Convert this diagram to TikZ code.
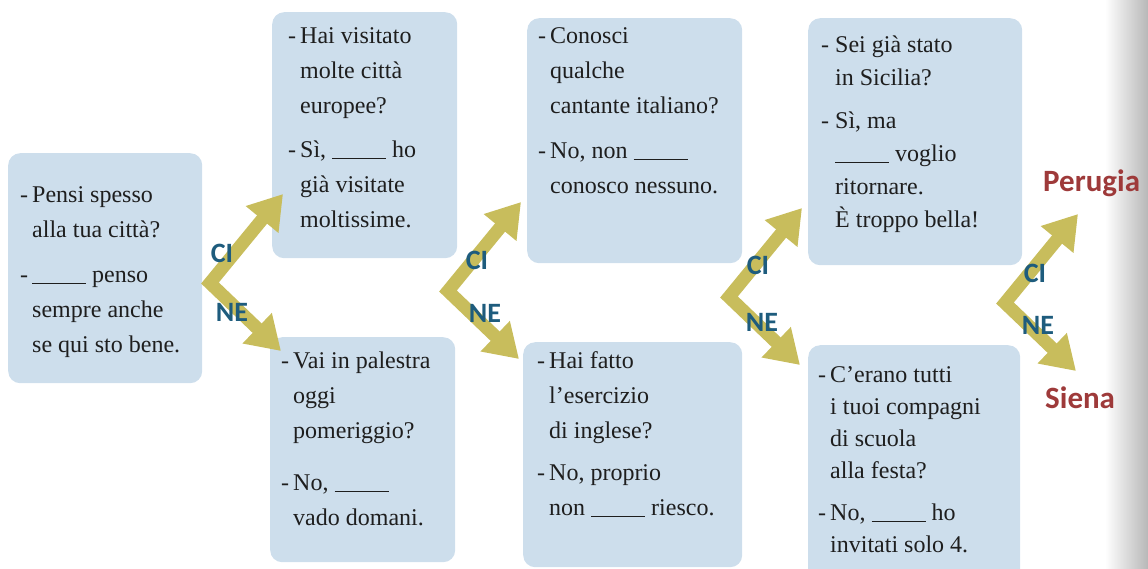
\documentclass[tikz,border=0pt]{standalone}
\usepackage{fontspec}
\setmainfont{Liberation Serif}
\newfontfamily\etichettafont{Carlito}
\usetikzlibrary{arrows.meta}
\definecolor{azzurro}{RGB}{205,222,236}
\definecolor{oliva}{RGB}{200,189,92}
\definecolor{blu}{RGB}{30,92,125}
\definecolor{rosso}{RGB}{158,58,58}
\definecolor{inchiostro}{RGB}{30,30,30}
\newlength{\trattol}
\setlength{\trattol}{12pt}
\newcommand{\tratto}{\strut\makebox[\trattol][l]{-}}
\newcommand{\rientro}{\strut\hspace*{\trattol}}
\newcommand{\lacuna}{\rule[-1.5pt]{54pt}{1.1pt}}
\tikzset{fumetto/.style={fill=azzurro,rounded corners=12pt,anchor=north west,inner sep=0pt}}
\tikzset{testo/.style={anchor=north west,inner sep=0pt,align=left,text=inchiostro,font=\fontsize{24}{35}\selectfont}}
\tikzset{freccia/.style={draw=oliva,line width=13pt,line join=miter,
    {Triangle[width=40pt,length=33pt]}-{Triangle[width=40pt,length=33pt]}}}
\tikzset{etichetta/.style={inner sep=0pt,text=blu,font=\etichettafont\bfseries\fontsize{28}{28}\selectfont}}
\tikzset{citta/.style={anchor=base west,inner sep=0pt,text=rosso,font=\etichettafont\bfseries\fontsize{31}{31}\selectfont}}

\begin{document}
\begin{tikzpicture}[x=1pt,y=-1pt]
        \useasboundingbox (0,0) rectangle (1148,568);
        \shade[left color=white,right color=black!28] (1105,0) rectangle (1148,568);

        % Boxes
        \node[fumetto,minimum width=194pt,minimum height=230pt] (b1) at (8,153) {};
        \node[fumetto,minimum width=185pt,minimum height=246pt] (b2) at (272,12) {};
        \node[fumetto,minimum width=215pt,minimum height=245pt] (b3) at (527,18) {};
        \node[fumetto,minimum width=185pt,minimum height=225pt] (b4) at (270,337) {};
        \node[fumetto,minimum width=219pt,minimum height=225pt] (b5) at (523,342) {};
        \node[fumetto,minimum width=214pt,minimum height=247pt] (b6) at (808,18) {};
        \node[fumetto,minimum width=212pt,minimum height=240pt] (b7) at (808,345) {};

        % Dialogues
        \node[testo] (t1) at (20,177.5)
        {\tratto Pensi spesso\\ \rientro alla tua città?\\[10pt]
         \tratto\lacuna{} penso\\ \rientro sempre anche\\ \rientro se qui sto bene.};
        \node[testo] (t2) at (288,18.5)
        {\tratto Hai visitato\\ \rientro molte città\\ \rientro europee?\\[9pt]
         \tratto Sì, \lacuna{} ho\\ \rientro già visitate\\ \rientro moltissime.};
        \node[testo] (t3) at (538,18.5)
        {\tratto Conosci\\ \rientro qualche\\ \rientro cantante italiano?\\[10pt]
         \tratto No, non \lacuna\\ \rientro conosco nessuno.};
        \node[testo] (t4) at (281,343.5)
        {\tratto Vai in palestra\\ \rientro oggi\\ \rientro pomeriggio?\\[17pt]
         \tratto No, \lacuna\\ \rientro vado domani.};
        \node[testo] (t5) at (537,343.5)
        {\tratto Hai fatto\\ \rientro l’esercizio\\ \rientro di inglese?\\[7pt]
         \tratto No, proprio\\ \rientro non \lacuna{} riesco.};
        \node[testo,font=\fontsize{24}{33}\selectfont\setlength{\trattol}{14pt}] (t6) at (821,28.9)
        {\tratto Sei già stato\\ \rientro in Sicilia?\\[10pt]
         \tratto Sì, ma\\ \rientro\lacuna{} voglio\\ \rientro ritornare.\\ \rientro È troppo bella!};
        \node[testo,font=\fontsize{24}{32}\selectfont\setlength{\trattol}{12pt}] (t7) at (818,359.6)
        {\tratto C’erano tutti\\ \rientro i tuoi compagni\\ \rientro di scuola\\ \rientro alla festa?\\[10pt]
         \tratto No, \lacuna{} ho\\ \rientro invitati solo 4.};

        % CI / NE arrows
        \foreach \n/\vx/\vy/\cx/\cy/\nx/\ny in {1/210/283/222/253/232/312,
                                                2/448/291/477/260/485/313,
                                                3/729/297/758/265/762/322,
                                                4/1005/303/1035/273/1038/325}
        {
            \coordinate (v\n) at (\vx,\vy);
            \coordinate (su\n) at ([shift={(73,-89)}]v\n);
            \coordinate (giu\n) at ([shift={(71,68)}]v\n);
            \draw[freccia] (su\n) -- (v\n) -- (giu\n);
            \node[etichetta] (ci\n) at (\cx,\cy) {CI};
            \node[etichetta] (ne\n) at (\nx,\ny) {NE};
        }

        \node[citta] (perugia) at (1043,191) {Perugia};
        \node[citta] (siena) at (1045,408) {Siena};
    \end{tikzpicture}
\end{document}
